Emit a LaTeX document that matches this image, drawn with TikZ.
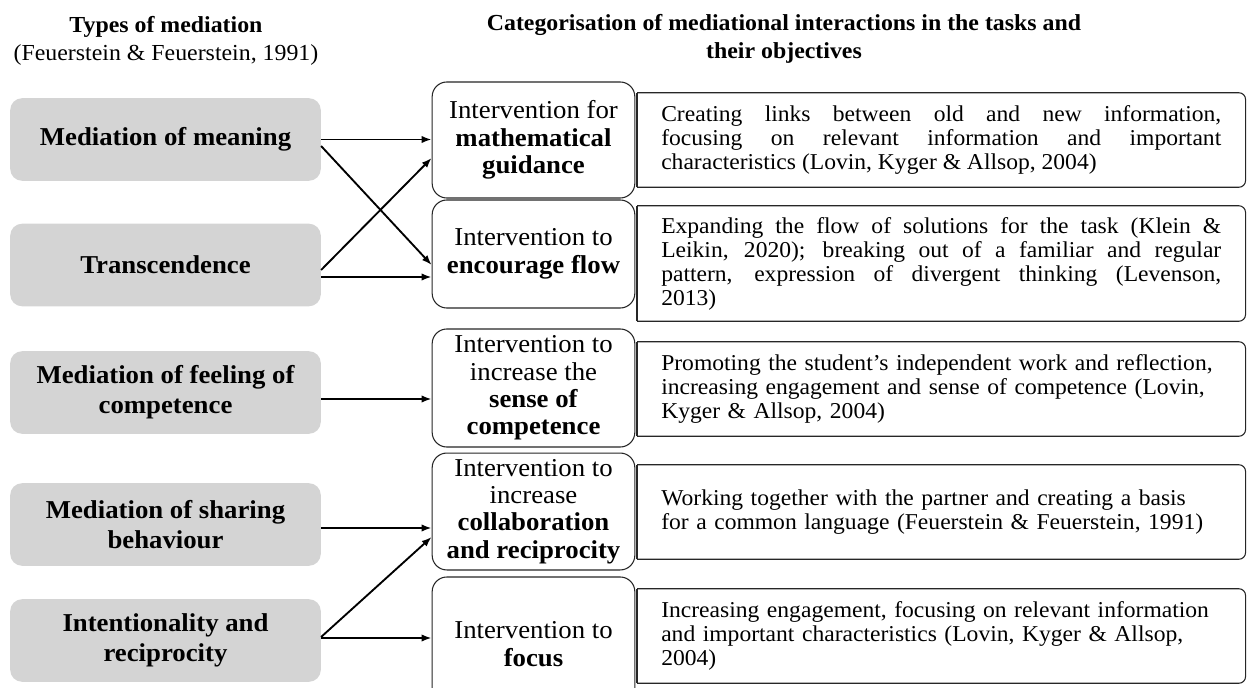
\documentclass[tikz,border=0pt]{standalone}
\usepackage{fontspec}
\setmainfont{Liberation Serif}[FakeStretch=1.04]
\usetikzlibrary{arrows.meta}

\definecolor{medgray}{RGB}{212,212,212}
\newcommand\typefont{\fontsize{19.3}{22.5}\selectfont\bfseries}
\newcommand\taskfont{\fontsize{19.3}{20.6}\selectfont}
\newcommand\aimfont{\fontsize{17}{18}\selectfont\tolerance=10000\hbadness=10000\hyphenpenalty=10000}
\newcommand\headfont{\fontsize{17.2}{20.8}\selectfont}

\begin{document}
\begin{tikzpicture}[x=0.75pt,y=-0.75pt,
    mediation/.style={fill=medgray,rounded corners=9pt,minimum width=233pt,minimum height=62pt,align=center,font=\typefont},
    task/.style={draw=black!85,line width=0.8pt,rounded corners=11pt,fill=white,minimum width=152pt,inner sep=0pt,align=center,font=\taskfont},
    aim/.style={anchor=west,minimum width=456pt,text width=420pt,inner xsep=18pt,inner ysep=0pt,font=\aimfont},
    link/.style={-{Latex[length=7.5pt,width=5.5pt]},line width=1.4pt}]
    \useasboundingbox (0,0) rectangle (1247,688);

    % column headings
    \node[font=\headfont,align=center] (head1) at (166,41) {\textbf{Types of mediation}\\(Feuerstein \& Feuerstein, 1991)};
    \node[font=\headfont,align=center] (head2) at (784,39) {\textbf{Categorisation of mediational interactions in the tasks and}\\\textbf{their objectives}};

    % types of mediation
    \node[mediation] (g1) at (165.5,139.5) {Mediation of meaning};
    \node[mediation] (g2) at (165.5,265) {Transcendence};
    \node[mediation] (g3) at (165.5,392.5) {Mediation of feeling of\\competence};
    \node[mediation] (g4) at (165.5,524.5) {Mediation of sharing\\behaviour};
    \node[mediation] (g5) at (165.5,640.5) {Intentionality and\\reciprocity};

    % interventions
    \node[task,minimum height=87pt] (m1) at (533.5,140) {Intervention for\\\textbf{mathematical}\\\textbf{guidance}};
    \node[task,minimum height=81pt] (m2) at (533.5,254) {Intervention to\\\textbf{encourage flow}};
    \node[task,minimum height=88.5pt] (m3) at (533.5,388) {Intervention to\\increase the\\\textbf{sense of}\\\textbf{competence}};
    \node[task,minimum height=87.7pt] (m4) at (533.5,511.5) {Intervention to\\increase\\\textbf{collaboration}\\\textbf{and reciprocity}};
    \node[task,minimum height=100.5pt] (m5) at (533.5,644) {Intervention to\\\textbf{focus}};

    % objectives
    \node[aim,minimum height=70.5pt,align=justify] (r1) at (637,140) {Creating links between old and new information,\linebreak focusing on relevant information and important\linebreak characteristics (Lovin, Kyger \& Allsop, 2004)};
    \node[aim,minimum height=86.2pt,align=justify] (r2) at (637,263.5) {Expanding the flow of solutions for the task (Klein \&\linebreak Leikin, 2020); breaking out of a familiar and regular\linebreak pattern, expression of divergent thinking (Levenson,\linebreak 2013)};
    \node[aim,minimum height=70.5pt,align=left] (r3) at (637,389) {Promoting the student’s independent work and reflection,\\increasing engagement and sense of competence (Lovin,\\Kyger \& Allsop, 2004)};
    \node[aim,minimum height=70.5pt,align=left] (r4) at (637,512) {Working together with the partner and creating a basis\\for a common language (Feuerstein \& Feuerstein, 1991)};
    \node[aim,minimum height=70.5pt,align=left] (r5) at (637,636) {Increasing engagement, focusing on relevant information\\and important characteristics (Lovin, Kyger \& Allsop,\\2004)};
    \foreach \r in {r1,r2,r3,r4,r5}{
        \draw[black!85,line width=0.8pt,rounded corners=5pt] (\r.north west) -- (\r.north east) -- (\r.south east) -- (\r.south west);
        \draw[black!85,line width=0.8pt] (\r.south west) -- (\r.north west);
    }

    % links
    \draw[link] (g1.east) -- (g1.east -| m1.west);
    \draw[link] (g1.east |- 0,146) -- (m2.west |- 0,265);
    \draw[link] (g2.east |- 0,270) -- (m1.west |- 0,158);
    \draw[link] (g2.east |- 0,277) -- (m2.west |- 0,277);
    \draw[link] (g3.east |- 0,399) -- (m3.west |- 0,399);
    \draw[link] (g4.east |- 0,528) -- (m4.west |- 0,528);
    \draw[link] (g5.east |- 0,637) -- (m4.west |- 0,537);
    \draw[link] (g5.east |- 0,638) -- (m5.west |- 0,638);
\end{tikzpicture}
\end{document}
